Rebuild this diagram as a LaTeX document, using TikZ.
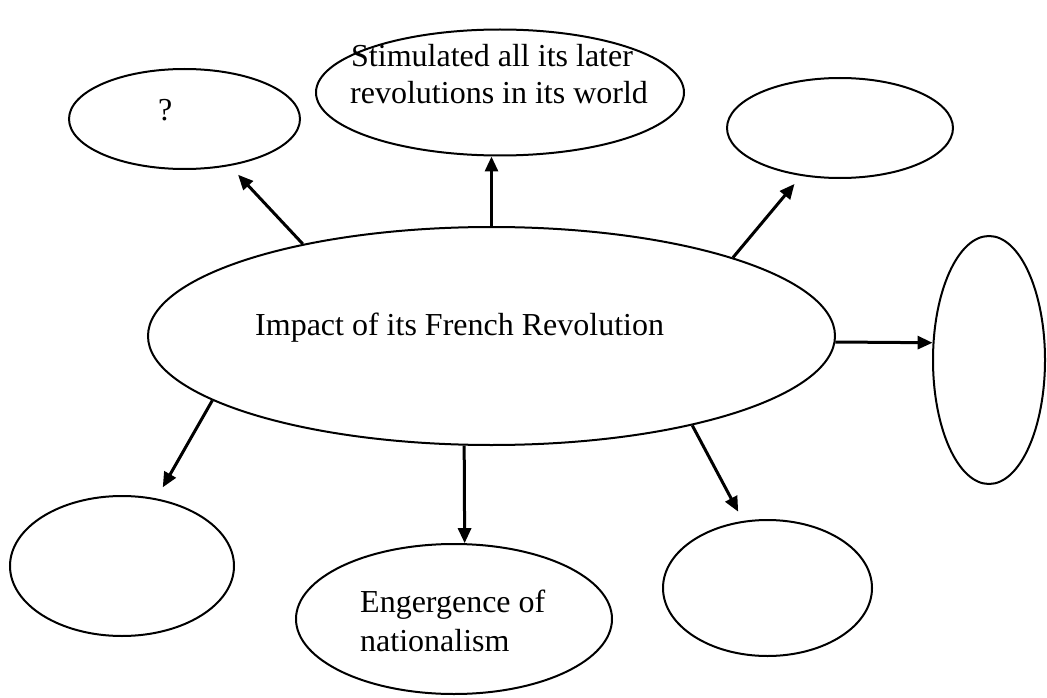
\documentclass[tikz,border=0pt]{standalone}
\usepackage{fontspec}
\setmainfont{Liberation Serif}
\usetikzlibrary{shapes.geometric,arrows.meta}
\begin{document}
\begin{tikzpicture}[x=1pt,y=-1pt,
  bubble/.style={draw=black, line width=2pt, ellipse, inner sep=0pt},
  arr/.style={line width=3pt, -{Triangle[length=15pt,width=13pt]}},
  lbl/.style={font=\fontsize{32}{38}\selectfont, inner sep=0pt, align=left}]
\useasboundingbox (0,0) rectangle (1047,698);
\fill[white] (0,0) rectangle (1047,698);

% bubbles
\node[bubble, minimum width=687pt, minimum height=218pt] (C)  at (491.5,336) {};
\node[bubble, minimum width=231pt, minimum height=100pt] (TL) at (184.5,119) {};
\node[bubble, minimum width=368pt, minimum height=126pt] (TC) at (500,92.5) {};
\node[bubble, minimum width=226pt, minimum height=100pt] (TR) at (840,128) {};
\node[bubble, minimum width=112pt, minimum height=248pt] (R)  at (989,360) {};
\node[bubble, minimum width=224pt, minimum height=140pt] (BL) at (122,566) {};
\node[bubble, minimum width=316pt, minimum height=150pt] (BC) at (454,619) {};
\node[bubble, minimum width=209pt, minimum height=136pt] (BR) at (767.5,588) {};

% texts
\node[lbl, anchor=base west] (tC)  at (255,335) {Impact of its French Revolution};
\node[lbl, anchor=base west] (tTL) at (158,121) {?};
\node[lbl, anchor=base west] (tTC1) at (351,67) {Stimulated all its later};
\node[lbl, anchor=base west] (tTC2) at (350,104) {revolutions in its world};
\node[lbl, anchor=base west] (tBC1) at (360,612) {Engergence of};
\node[lbl, anchor=base west] (tBC2) at (360,651) {nationalism};

% arrows from the centre
\draw[arr, shorten >=12pt] (C.154.6) -- (TL.-46.7);
\draw[arr] (C.north) -- (C.north |- TC.south);
\draw[arr, shorten >=10.4pt] (C.18) -- (TR.-129.15);
\draw[arr] (C.-1) -- (R.163);
\draw[arr, shorten >=12.7pt] (C.-167.8) -- (BL.63);
\draw[arr] (C.-104.2) -- (BC.82.6);
\draw[arr, shorten >=10.4pt] (C.-24.85) -- (BR.110.1);
\end{tikzpicture}
\end{document}
